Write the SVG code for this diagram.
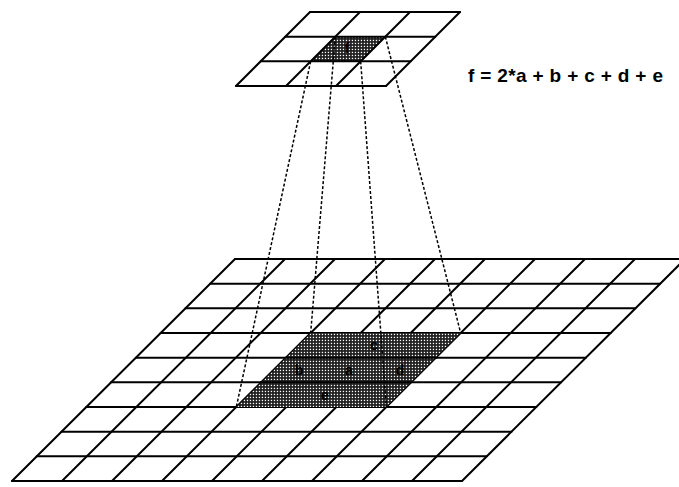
<svg xmlns="http://www.w3.org/2000/svg" width="679" height="487" viewBox="0 0 679 487">
  <defs>
    <pattern id="stipple" width="3" height="3" patternUnits="userSpaceOnUse">
      <rect width="3" height="3" fill="#1e1e1e"/>
      <rect x="0.8" y="0.8" width="1.3" height="1.3" fill="#fff"/>
    </pattern>
    <style>
      .grid { stroke: #000; stroke-width: 2; fill: none; stroke-linecap: round; }
      .shade { fill: url(#stipple); stroke: none; }
      .dash { stroke: #000; stroke-width: 1.5; fill: none; stroke-dasharray: 3 2; }
      .lbl { font-family: "Liberation Sans", Arial, sans-serif; font-weight: bold; font-size: 14px; fill: #000; text-anchor: middle; }
      .formula { font-family: "Liberation Sans", Arial, sans-serif; font-weight: bold; font-size: 19px; fill: #000; }
    </style>
  </defs>
  <rect width="679" height="487" fill="#fff"/>

  <g id="bottom-grid">
    <g class="grid">
      <line x1="235" y1="259" x2="685" y2="259"/>
      <line x1="210.22" y1="283.67" x2="660.22" y2="283.67"/>
      <line x1="185.44" y1="308.33" x2="635.44" y2="308.33"/>
      <line x1="160.66" y1="333" x2="610.66" y2="333"/>
      <line x1="135.88" y1="357.67" x2="585.88" y2="357.67"/>
      <line x1="111.1" y1="382.33" x2="561.1" y2="382.33"/>
      <line x1="86.32" y1="407" x2="536.32" y2="407"/>
      <line x1="61.54" y1="431.67" x2="511.54" y2="431.67"/>
      <line x1="36.76" y1="456.33" x2="486.76" y2="456.33"/>
      <line x1="12" y1="481" x2="462" y2="481"/>
      <line x1="235" y1="259" x2="12" y2="481"/>
      <line x1="285" y1="259" x2="62" y2="481"/>
      <line x1="335" y1="259" x2="112" y2="481"/>
      <line x1="385" y1="259" x2="162" y2="481"/>
      <line x1="435" y1="259" x2="212" y2="481"/>
      <line x1="485" y1="259" x2="262" y2="481"/>
      <line x1="535" y1="259" x2="312" y2="481"/>
      <line x1="585" y1="259" x2="362" y2="481"/>
      <line x1="635" y1="259" x2="412" y2="481"/>
      <line x1="685" y1="259" x2="462" y2="481"/>
    </g>
    <polygon class="shade" points="310.66,333 460.66,333 386.32,407 236.32,407"/>
    <g class="grid">
      <line x1="285.88" y1="357.67" x2="435.88" y2="357.67"/>
      <line x1="261.1" y1="382.33" x2="411.1" y2="382.33"/>
    </g>
    <text class="lbl" x="374" y="350">c</text>
    <text class="lbl" x="299" y="375">b</text>
    <text class="lbl" x="349" y="375">a</text>
    <text class="lbl" x="400" y="375">d</text>
    <text class="lbl" x="325" y="400">e</text>
  </g>

  <g id="top-grid">
    <polygon class="shade" points="335.33,36.67 385.33,36.67 360.67,61.33 310.67,61.33"/>
    <g class="grid">
      <line x1="310" y1="12" x2="460" y2="12"/>
      <line x1="285.33" y1="36.67" x2="435.33" y2="36.67"/>
      <line x1="260.67" y1="61.33" x2="410.67" y2="61.33"/>
      <line x1="236" y1="86" x2="386" y2="86"/>
      <line x1="310" y1="12" x2="236" y2="86"/>
      <line x1="360" y1="12" x2="286" y2="86"/>
      <line x1="410" y1="12" x2="336" y2="86"/>
      <line x1="460" y1="12" x2="386" y2="86"/>
    </g>
    <text class="lbl" x="347" y="53">f</text>
  </g>

  <g id="connectors">
    <line class="dash" x1="310.67" y1="61.33" x2="236.32" y2="407"/>
    <line class="dash" x1="335.33" y1="36.67" x2="310.66" y2="333"/>
    <line class="dash" x1="360.67" y1="61.33" x2="386.32" y2="407"/>
    <line class="dash" x1="385.33" y1="36.67" x2="460.66" y2="333"/>
  </g>

  <g id="formula">
    <text class="formula" x="468" y="82" textLength="195" lengthAdjust="spacing">f = 2*a + b + c + d + e</text>
  </g>
</svg>
